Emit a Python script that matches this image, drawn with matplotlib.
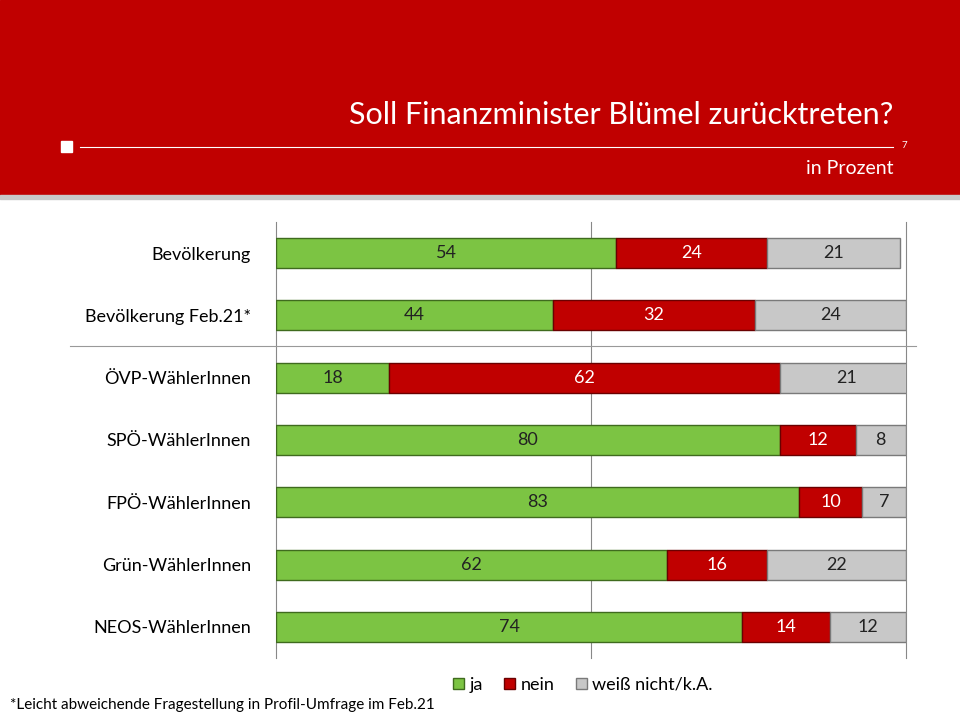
import matplotlib.pyplot as plt

plt.rcParams["font.family"] = "Lato"

groups = ["Bevölkerung", "Bevölkerung Feb.21*", "ÖVP-WählerInnen", "SPÖ-WählerInnen",
          "FPÖ-WählerInnen", "Grün-WählerInnen", "NEOS-WählerInnen"]
ja = [54, 44, 18, 80, 83, 62, 74]
nein = [24, 32, 62, 12, 10, 16, 14]
wn = [21, 24, 21, 8, 7, 22, 12]
series_names = ["ja", "nein", "weiß nicht/k.A."]

colors = ["#7cc443", "#c00000", "#c8c8c8"]
edges = ["#3f6b1e", "#6a0000", "#7a7a7a"]
txtcol = ["#222222", "white", "#222222"]

fig = plt.figure(figsize=(9.6, 7.2), dpi=100)
W, H = 960, 720

# header
fig.patches.append(plt.Rectangle((0, 1 - 195 / H), 1, 195 / H, transform=fig.transFigure,
                                 color="#c00000", zorder=0))
fig.patches.append(plt.Rectangle((0, 1 - 199 / H), 1, 4 / H, transform=fig.transFigure,
                                 color="#c8c8c8", zorder=0))
fig.text(893 / W, 1 - 115 / H, "Soll Finanzminister Blümel zurücktreten?", color="white",
         fontsize=22, ha="right", va="center")
fig.text(893 / W, 1 - 168 / H, "in Prozent", color="white", fontsize=14, ha="right", va="center")
fig.text(904 / W, 1 - 146 / H, "7", color="white", fontsize=7, ha="center", va="center")
fig.lines.append(plt.Line2D([80 / W, 893 / W], [1 - 147 / H] * 2, color="white", lw=0.8,
                            transform=fig.transFigure))
fig.patches.append(plt.Rectangle((61 / W, 1 - 152 / H), 11 / W, 11 / H, transform=fig.transFigure,
                                 color="white"))

ax = fig.add_axes([276 / W, 1 - 658 / H, 630 / W, 436 / H])
y = list(range(len(groups)))
left = [0] * len(groups)
for vals, name, c, e, tc in zip([ja, nein, wn], series_names, colors, edges, txtcol):
    bars = ax.barh(y, vals, left=left, height=0.48, color=c, edgecolor=e, linewidth=1,
                   label=name, zorder=3)
    for b, v, l in zip(bars, vals, left):
        ax.text(l + v / 2, b.get_y() + b.get_height() / 2, str(v), ha="center", va="center",
                color=tc, fontsize=13, zorder=4)
    left = [a + b for a, b in zip(left, vals)]

ax.set_xlim(0, 100)
ax.set_ylim(len(groups) - 0.5, -0.5)
ax.set_yticks(y)
ax.set_yticklabels(groups, fontsize=13)
ax.tick_params(axis="y", length=0, pad=18)
ax.set_xticks([])
ax.tick_params(axis="x", length=0, labelbottom=False)
for s in ax.spines.values():
    s.set_visible(False)
for xv in [0, 50, 100]:
    ax.axvline(xv, color="#888888", lw=0.8, zorder=1, clip_on=False)

fig.lines.append(plt.Line2D([70 / W, 916 / W], [1 - 346 / H] * 2, color="#999999", lw=0.8,
                            transform=fig.transFigure))

fig.legend(loc="center", bbox_to_anchor=(583 / W, 1 - 685 / H), ncol=3, frameon=False,
           fontsize=13, handlelength=0.6, handleheight=0.6, handletextpad=0.3, columnspacing=1.2)
fig.text(10 / W, 1 - 705 / H, "*Leicht abweichende Fragestellung in Profil-Umfrage im Feb.21",
         fontsize=11, va="center")

fig.savefig("out.png", dpi=100)
